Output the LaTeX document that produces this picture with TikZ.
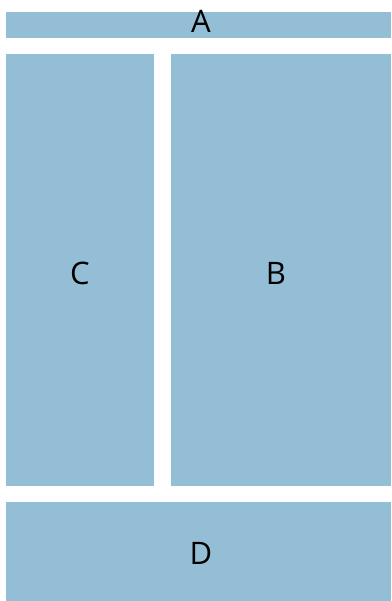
\documentclass[tikz,border=0pt]{standalone}
\usepackage{fontspec}
\setmainfont{Open Sans}
\definecolor{panel}{RGB}{148,189,214}
\begin{document}
\begin{tikzpicture}[x=1pt,y=-1pt,
  panelbox/.style={fill=panel,draw=none},
  lbl/.style={anchor=base,inner sep=0pt,font=\fontsize{31}{31}\selectfont,text=black}]
\useasboundingbox (0,0) rectangle (391,601);
\fill[white] (0,0) rectangle (391,601);
\path[panelbox] (6,12) rectangle (391,38);
\path[panelbox] (6,54) rectangle (154,486);
\path[panelbox] (171,54) rectangle (391,486);
\path[panelbox] (6,502) rectangle (391,601);
\node[lbl] (A) at (201,33) {A};
\node[lbl] (C) at (80,284) {C};
\node[lbl] (B) at (276,284) {B};
\node[lbl] (D) at (201,564) {D};
\end{tikzpicture}
\end{document}
